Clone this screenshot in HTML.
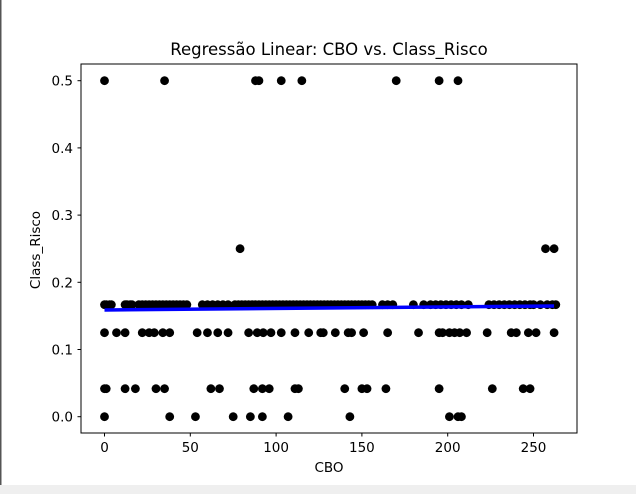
<!DOCTYPE html>
<html><head><meta charset="utf-8"><style>
html,body{margin:0;padding:0;background:#fff;}
svg{display:block;font-family:"DejaVu Sans","Liberation Sans",sans-serif;}
</style></head><body>
<svg id="chart" width="636" height="494" viewBox="0 0 636 494" xmlns="http://www.w3.org/2000/svg">
<rect x="0" y="0" width="636" height="494" fill="#fff"/>
<rect x="0" y="485" width="636" height="9" fill="#efefef"/>
<rect x="0" y="0" width="1.5" height="485" fill="#555"/>
<text x="329" y="55" text-anchor="middle" font-size="16.5" fill="#000">Regressão Linear: CBO vs. Class_Risco</text>
<g id="ticks"></g>
<g id="points"></g>
<g id="reg"></g>
<rect x="81" y="64" width="496" height="369" fill="none" stroke="#000" stroke-width="1"/>
<text x="329" y="472" text-anchor="middle" font-size="13.5">CBO</text>
<text x="0" y="0" transform="translate(40,250) rotate(-90)" text-anchor="middle" font-size="13.5">Class_Risco</text>
</svg>
<script>
const xTicks = [0, 50, 100, 150, 200, 250];
const yTicks = [0.0, 0.1, 0.2, 0.3, 0.4, 0.5];
const yTickLabels = ["0.0","0.1","0.2","0.3","0.4","0.5"];
const cboValues = [
0,35,88,90,103,115,170,195,206,
79,257,262,
0,38,53,75,85,92,107,143,201,206,208,
0,1,12,18,30,35,62,67,87,92,96,111,113,140,150,153,164,195,226,244,248,
0,7,12,22,26,29,34,38,54,60,66,72,84,89,92.5,97,103,111,119,126,127.5,134.5,142,144,151,165,183,195,197,201,204,207,211,223,237,240,247,251.5,262,
0,1,3,4,12,13,15,16,20,22,24,26,28,30,32,34,36,38,40,42,44,46,48,57,60,63,66,69,72,76,78,80,82,84,86,88,90,92,94,96,98,100,102,104,106,108,110,112,114,116,118,120,122,124,126,128,130,132,134,136,138,140,142,144,146,148,150,152,154,156,162,165,168,180,186,190,193,196,199,202,205,208,212,224,227,230,233,236,239,242,245,248,250,254,258,261,263
];
const riskValues = [
0.5,0.5,0.5,0.5,0.5,0.5,0.5,0.5,0.5,
0.25,0.25,0.25,
0,0,0,0,0,0,0,0,0,0,0,
0.0417,0.0417,0.0417,0.0417,0.0417,0.0417,0.0417,0.0417,0.0417,0.0417,0.0417,0.0417,0.0417,0.0417,0.0417,0.0417,0.0417,0.0417,0.0417,0.0417,0.0417,
0.125,0.125,0.125,0.125,0.125,0.125,0.125,0.125,0.125,0.125,0.125,0.125,0.125,0.125,0.125,0.125,0.125,0.125,0.125,0.125,0.125,0.125,0.125,0.125,0.125,0.125,0.125,0.125,0.125,0.125,0.125,0.125,0.125,0.125,0.125,0.125,0.125,0.125,0.125,
0.1667,0.1667,0.1667,0.1667,0.1667,0.1667,0.1667,0.1667,0.1667,0.1667,0.1667,0.1667,0.1667,0.1667,0.1667,0.1667,0.1667,0.1667,0.1667,0.1667,0.1667,0.1667,0.1667,0.1667,0.1667,0.1667,0.1667,0.1667,0.1667,0.1667,0.1667,0.1667,0.1667,0.1667,0.1667,0.1667,0.1667,0.1667,0.1667,0.1667,0.1667,0.1667,0.1667,0.1667,0.1667,0.1667,0.1667,0.1667,0.1667,0.1667,0.1667,0.1667,0.1667,0.1667,0.1667,0.1667,0.1667,0.1667,0.1667,0.1667,0.1667,0.1667,0.1667,0.1667,0.1667,0.1667,0.1667,0.1667,0.1667,0.1667,0.1667,0.1667,0.1667,0.1667,0.1667,0.1667,0.1667,0.1667,0.1667,0.1667,0.1667,0.1667,0.1667,0.1667,0.1667,0.1667,0.1667,0.1667,0.1667,0.1667,0.1667,0.1667,0.1667,0.1667,0.1667,0.1667,0.1667
];
const regX = [0, 262];
const regY = [0.1588, 0.1647];

const NS = "http://www.w3.org/2000/svg";
function sx(v){ return 104.5 + v * 1.716; }
function sy(v){ return 416.7 - v * 672; }
function mk(tag, attrs, parent){ const e=document.createElementNS(NS,tag); for(const k in attrs) e.setAttribute(k,attrs[k]); parent.appendChild(e); return e; }

const tg = document.getElementById('ticks');
xTicks.forEach(t=>{
  const l = mk('line',{x1:sx(t),x2:sx(t),y1:433,y2:436.5,stroke:'#000','stroke-width':1},tg);
  
  
  const tx = mk('text',{x:sx(t),y:452,'text-anchor':'middle','font-size':13.5},tg);
  tx.textContent = String(t);
  
  
});
yTicks.forEach((t,i)=>{
  const l = mk('line',{x1:77.5,x2:81,y1:sy(t),y2:sy(t),stroke:'#000','stroke-width':1},tg);
  
  
  const tx = mk('text',{x:73,y:sy(t)+5,'text-anchor':'end','font-size':13.5},tg);
  tx.textContent = yTickLabels[i];
  
  
});

const pg = document.getElementById('points');
cboValues.forEach((v,i)=>{
  const c = mk('circle',{cx:sx(v),cy:sy(riskValues[i]),r:4.4,fill:'#000'},pg);
  
  
});

const rg = document.getElementById('reg');
const rl = mk('line',{x1:sx(regX[0]),y1:sy(regY[0]),x2:sx(regX[1]),y2:sy(regY[1]),stroke:'#0000ff','stroke-width':3.5},rg);


</script>
</body></html>
